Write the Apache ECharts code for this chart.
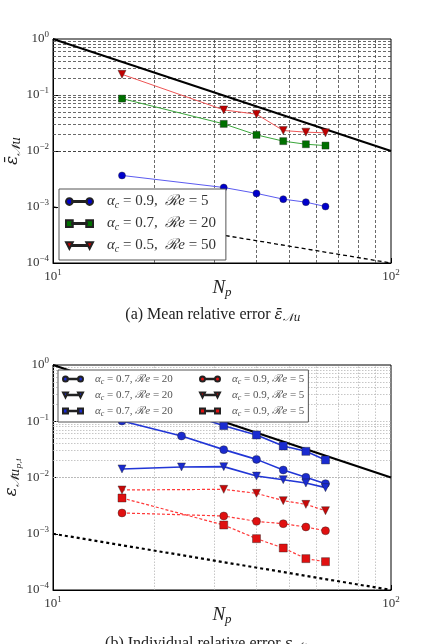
<!DOCTYPE html>
<html>
<head>
<meta charset="utf-8">
<script src="https://cdn.jsdelivr.net/npm/echarts@6/dist/echarts.min.js"></script>
<style>
  html, body { margin: 0; padding: 0; background: #fff; }
  #chart { width: 435px; height: 644px; }
</style>
</head>
<body>
<div id="chart"></div>
<script>
// ---- data ----
// (a) mean relative error
const npTop = [16, 32, 40, 48, 56, 64];
const meanA09 = [0.00366, 0.00223, 0.00175, 0.00138, 0.00122, 0.00102];
const meanA07 = [0.0863, 0.0305, 0.0194, 0.0150, 0.0132, 0.0125];
const meanA05 = [0.234, 0.0542, 0.0454, 0.0232, 0.0217, 0.0211];

// (b) individual relative error
const npBlue = [16, 24, 32, 40, 48, 56, 64];
const blueCircle = [0.101, 0.0547, 0.0313, 0.0210, 0.0136, 0.0101, 0.00777];
const blueTri = [0.0142, 0.0154, 0.0156, 0.0106, 0.00915, 0.00798, 0.00660];
const blueSquare = [0.30, 0.148, 0.0835, 0.057, 0.0363, 0.0292, 0.0205];
const npRed = [16, 32, 40, 48, 56, 64];
const redCircle = [0.00234, 0.00207, 0.00166, 0.00151, 0.00132, 0.00113];
const redTri = [0.0060, 0.00616, 0.00523, 0.00388, 0.00333, 0.00257];
const redSquare = [0.00432, 0.00143, 0.000818, 0.000558, 0.000361, 0.000319];

// reference slopes
const refX = [10, 100];
const refOrder2 = [1, 0.01];
const refOrder1 = [0.001, 0.0001];

// grid lines (log minors)
const minorMant = [2, 3, 4, 5, 6, 7, 8, 9];
const yDecades = [0.0001, 0.001, 0.01, 0.1];
const xGridVals = [20, 30, 40, 50, 60, 70, 80, 90];

const legendTop = {
  a09: '{i|α}{s|c} = 0.9,  {i|ℛe} = 5',
  a07: '{i|α}{s|c} = 0.7,  {i|ℛe} = 20',
  a05: '{i|α}{s|c} = 0.5,  {i|ℛe} = 50'
};
const legendBot = {
  b1: '{i|α}{s|c} = 0.7, {i|ℛe} = 20',
  b2: '{i|α}{s|c} = 0.7, {i|ℛe} = 20',
  b3: '{i|α}{s|c} = 0.7, {i|ℛe} = 20',
  r1: '{i|α}{s|c} = 0.9, {i|ℛe} = 5',
  r2: '{i|α}{s|c} = 0.9, {i|ℛe} = 5',
  r3: '{i|α}{s|c} = 0.9, {i|ℛe} = 5'
};

const FONT = 'Liberation Serif, DejaVu Serif, serif';
const MATH = 'DejaVu Serif, serif';

function pts(xs, ys) { return xs.map((x, i) => [x, ys[i]]); }

const yGridVals = [0.001, 0.01, 0.1];
yDecades.forEach(d => minorMant.forEach(m => yGridVals.push(m * d)));

// legend icons: two markers joined by a line
const joinSolid = 'M9,4.4H31V5.6H9Z';
const joinDash = 'M11,4.4H15V5.6H11Z M18,4.4H22V5.6H18Z M25,4.4H29V5.6H25Z';
const circ = 'M0,5a5,5 0 1,0 10,0a5,5 0 1,0 -10,0Z M30,5a5,5 0 1,0 10,0a5,5 0 1,0 -10,0Z ';
const tri = 'M0,0H10L5,10Z M30,0H40L35,10Z ';
const sq = 'M0,0H10V10H0Z M30,0H40V10H30Z ';

function supLabel(v) {
  const e = Math.round(Math.log10(v));
  return '10{sup|' + (e < 0 ? '−' + (-e) : e) + '}';
}

function axisPair(idx) {
  return {
    x: {
      type: 'log', logBase: 10, min: 10, max: 100, gridIndex: idx,
      name: '{i|N}{s|p}', nameLocation: 'middle', nameGap: 14, nameMoveOverlap: false,
      nameTextStyle: {
        fontFamily: FONT, fontSize: 19, color: '#222',
        rich: { i: { fontStyle: 'italic', fontSize: 19 }, s: { fontStyle: 'italic', fontSize: 13, padding: [9, 0, 0, 0] } }
      },
      axisLine: { show: true, lineStyle: { color: '#000', width: 1 } },
      axisTick: { show: true, inside: true, length: 5, lineStyle: { color: '#000' } },
      axisLabel: {
        fontFamily: FONT, fontSize: 13, color: '#333', margin: 5,
        formatter: supLabel,
        rich: { sup: { fontSize: 9, padding: [0, 0, 8, 0] } }
      },
      splitLine: { show: false }
    },
    y: {
      type: 'log', logBase: 10, min: 0.0001, max: 1, gridIndex: idx,
      nameLocation: 'middle', nameRotate: 90, nameGap: 30, nameMoveOverlap: false,
      axisLine: { show: true, lineStyle: { color: '#000', width: 1 } },
      axisTick: { show: true, inside: true, length: 5, lineStyle: { color: '#000' } },
      axisLabel: {
        fontFamily: FONT, fontSize: 13, color: '#333', margin: 4,
        formatter: supLabel,
        rich: { sup: { fontSize: 9, padding: [0, 0, 8, 0] } }
      },
      splitLine: { show: false }
    }
  };
}

const axTop = axisPair(0);
const axBot = axisPair(1);
axTop.y.name = '{e|ε̄}{s|𝒩u}';
axTop.y.nameTextStyle = {
  fontFamily: FONT, fontSize: 18, color: '#222',
  rich: { e: { fontSize: 17, fontFamily: MATH, fontStyle: 'italic' }, s: { fontSize: 12, fontFamily: MATH, fontStyle: 'italic', padding: [8, 0, 0, 0] } }
};
axBot.y.name = '{e|ε}{s|𝒩u}{ss|p,i}';
axBot.y.nameTextStyle = {
  fontFamily: FONT, fontSize: 18, color: '#222',
  rich: {
    e: { fontSize: 17, fontFamily: MATH, fontStyle: 'italic' },
    s: { fontSize: 12, fontFamily: MATH, fontStyle: 'italic', padding: [8, 0, 0, 0] },
    ss: { fontSize: 8, fontFamily: MATH, fontStyle: 'italic', padding: [14, 0, 0, 0] }
  }
};

function gridLines(idx, style) {
  return {
    type: 'line', xAxisIndex: idx, yAxisIndex: idx, z: 1,
    data: pts(refX, refOrder2), symbol: 'none', silent: true,
    lineStyle: { opacity: 0 },
    markLine: {
      silent: true, z: 1, symbol: ['none', 'none'], label: { show: false },
      lineStyle: style, emphasis: { disabled: true },
      data: yGridVals.map(v => ({ yAxis: v })).concat(xGridVals.map(v => ({ xAxis: v })))
    }
  };
}

function refLine(idx, ys, type, width) {
  return {
    type: 'line', xAxisIndex: idx, yAxisIndex: idx, z: 2,
    data: pts(refX, ys), symbol: 'none', silent: true,
    lineStyle: { color: '#000', width: width, type: type }
  };
}

function dataLine(idx, name, xs, ys, symbol, size, mColor, lColor, lWidth, lType) {
  return {
    type: 'line', name: name, xAxisIndex: idx, yAxisIndex: idx, z: 3,
    data: pts(xs, ys),
    symbol: symbol === 'tri' ? 'triangle' : symbol,
    symbolRotate: symbol === 'tri' ? 180 : 0,
    symbolSize: size,
    itemStyle: { color: mColor, borderColor: '#222', borderWidth: 0.4 },
    lineStyle: { color: lColor, width: lWidth, type: lType }
  };
}

const series = [
  gridLines(0, { color: '#444', width: 0.8, type: [3, 2] }),
  gridLines(1, { color: '#b8b8b8', width: 0.8, type: [1.5, 1.5] }),
  refLine(0, refOrder2, 'solid', 2),
  refLine(0, refOrder1, [4, 3], 1.3),
  refLine(1, refOrder2, 'solid', 2.2),
  refLine(1, refOrder1, [3, 3], 2.2),
  dataLine(0, 'a09', npTop, meanA09, 'circle', 7, '#0000cc', '#5b5bf0', 1, 'solid'),
  dataLine(0, 'a07', npTop, meanA07, 'rect', 7, '#007000', '#3aa63a', 1, 'solid'),
  dataLine(0, 'a05', npTop, meanA05, 'tri', 8, '#c00000', '#ee5555', 1, 'solid'),
  dataLine(1, 'b1', npBlue, blueCircle, 'circle', 8, '#1a2bd0', '#2236d6', 1.6, 'solid'),
  dataLine(1, 'b2', npBlue, blueTri, 'tri', 8, '#1a2bd0', '#2236d6', 1.6, 'solid'),
  dataLine(1, 'b3', npBlue, blueSquare, 'rect', 8, '#1a2bd0', '#2236d6', 1.6, 'solid'),
  dataLine(1, 'r1', npRed, redCircle, 'circle', 8, '#e01010', '#ff3a3a', 1.2, [3, 2]),
  dataLine(1, 'r2', npRed, redTri, 'tri', 8, '#c80808', '#ff3a3a', 1.2, [3, 2]),
  dataLine(1, 'r3', npRed, redSquare, 'rect', 8, '#e01010', '#ff3a3a', 1.2, [3, 2])
];

const legendRich = {
  i: { fontStyle: 'italic' },
  s: { fontStyle: 'italic', fontSize: 8, padding: [6, 0, 0, 0] }
};

const chart = echarts.init(document.getElementById('chart'));
chart.setOption({
  animation: false,
  backgroundColor: '#fff',
  grid: [
    { left: 53, right: 44, top: 39, height: 224, outerBoundsMode: 'none', containLabel: false, show: true, borderColor: '#000', borderWidth: 1, backgroundColor: 'transparent' },
    { left: 53, right: 44, top: 365, height: 225, outerBoundsMode: 'none', containLabel: false, show: true, borderColor: '#000', borderWidth: 1, backgroundColor: 'transparent' }
  ],
  xAxis: [axTop.x, axBot.x],
  yAxis: [axTop.y, axBot.y],
  legend: [
    {
      orient: 'vertical', left: 59, top: 189, z: 10,
      padding: [5, 10, 6, 6], itemGap: 6, itemWidth: 27, itemHeight: 7,
      backgroundColor: '#fff', borderColor: '#555', borderWidth: 1, borderRadius: 0,
      selectedMode: false,
      data: [
        { name: 'a09', icon: 'path://' + circ + joinSolid },
        { name: 'a07', icon: 'path://' + sq + joinSolid },
        { name: 'a05', icon: 'path://' + tri + joinSolid }
      ],
      formatter: n => legendTop[n],
      textStyle: {
        fontFamily: FONT, fontSize: 15, color: '#333', lineHeight: 14,
        padding: [0, 0, 0, 9], rich: { i: { fontStyle: 'italic', fontSize: 15 }, s: { fontStyle: 'italic', fontSize: 10, padding: [7, 0, 0, 0] } }
      }
    },
    {
      orient: 'horizontal', left: 58, top: 370, width: 300, z: 10,
      padding: [3, 4, 4, 4], itemGap: 3, itemWidth: 20, itemHeight: 6,
      backgroundColor: '#fff', borderColor: '#555', borderWidth: 1, borderRadius: 0,
      selectedMode: false,
      data: [
        { name: 'b1', icon: 'path://' + circ + joinSolid, textStyle: { width: 101 } },
        { name: 'r1', icon: 'path://' + circ + joinDash, textStyle: { width: 70 } },
        { name: 'b2', icon: 'path://' + tri + joinSolid, textStyle: { width: 101 } },
        { name: 'r2', icon: 'path://' + tri + joinDash, textStyle: { width: 70 } },
        { name: 'b3', icon: 'path://' + sq + joinSolid, textStyle: { width: 101 } },
        { name: 'r3', icon: 'path://' + sq + joinDash, textStyle: { width: 70 } }
      ],
      formatter: n => legendBot[n],
      textStyle: {
        fontFamily: FONT, fontSize: 11, color: '#555', lineHeight: 12,
        padding: [0, 0, 0, 7], rich: legendRich
      }
    }
  ],
  graphic: [
    {
      type: 'text', x: 213, y: 315,
      style: {
        text: '(a) Mean relative error {e|ε̄}{s|𝒩u}',
        font: '16px ' + FONT, fill: '#222', align: 'center', verticalAlign: 'middle',
        rich: { e: { fontSize: 15, fontFamily: MATH, fontStyle: 'italic' }, s: { fontSize: 11, fontFamily: MATH, fontStyle: 'italic', padding: [7, 0, 0, 0] } }
      }
    },
    {
      type: 'text', x: 213, y: 644,
      style: {
        text: '(b) Individual relative error {e|ε}{s|𝒩u}{ss|p,i}',
        font: '16px ' + FONT, fill: '#222', align: 'center', verticalAlign: 'middle',
        rich: { e: { fontSize: 15, fontFamily: MATH, fontStyle: 'italic' }, s: { fontSize: 11, fontFamily: MATH, fontStyle: 'italic', padding: [7, 0, 0, 0] }, ss: { fontSize: 8, fontFamily: MATH, fontStyle: 'italic', padding: [12, 0, 0, 0] } }
      }
    }
  ],
  series: series
});
</script>
</body>
</html>
